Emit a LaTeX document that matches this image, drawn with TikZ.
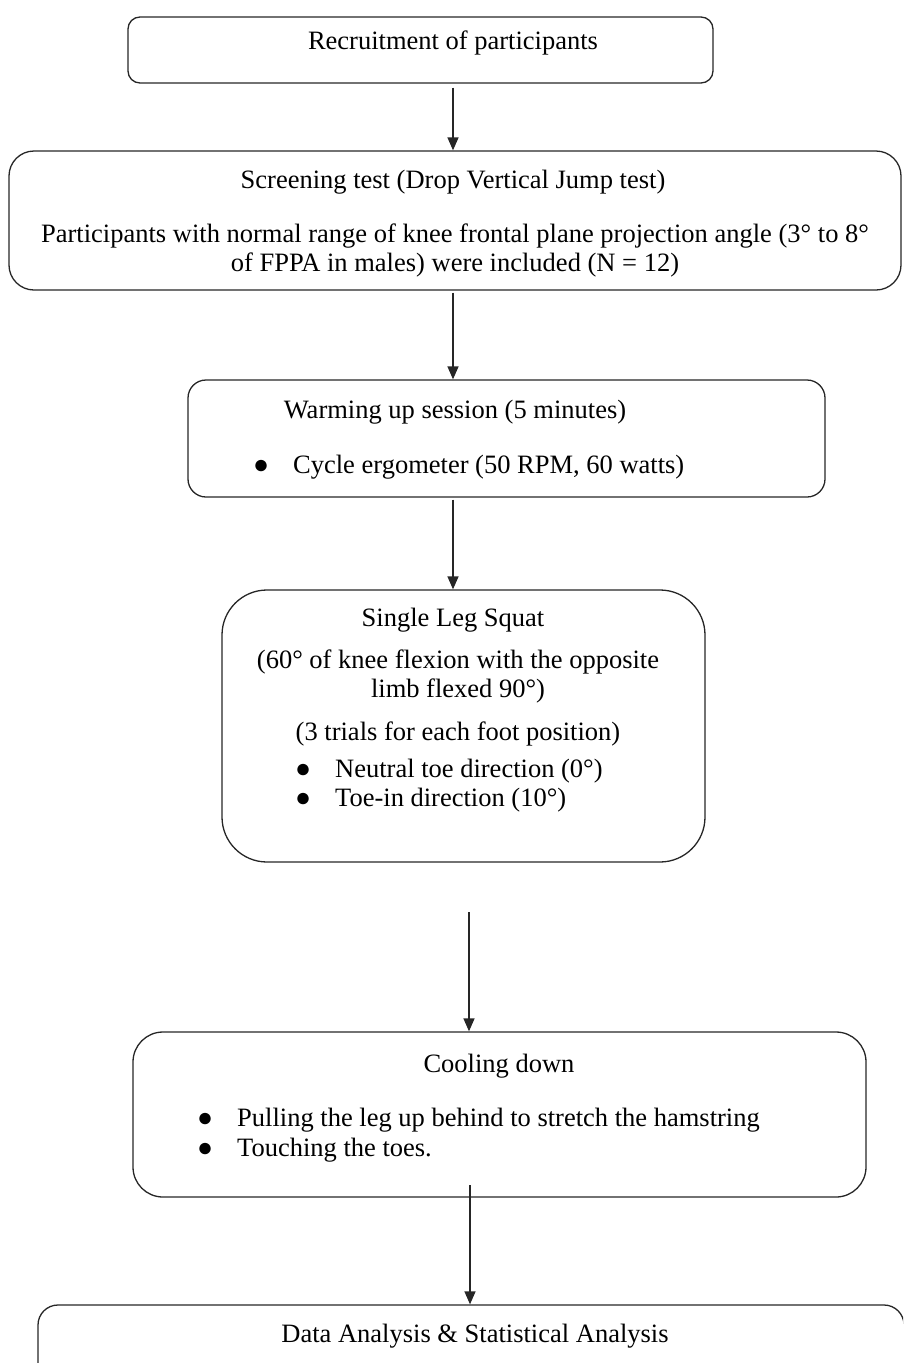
\documentclass[tikz,border=0pt]{standalone}
\usepackage{fontspec}
\setmainfont{Liberation Serif}
\usetikzlibrary{arrows.meta}

\newcommand{\flowbullet}{\makebox[40pt][l]{●}}

\begin{document}
\begin{tikzpicture}[x=1pt, y=-1pt,
    flowbox/.style={draw=black!85, line width=1.3pt, inner sep=0pt},
    flowtext/.style={font=\fontsize{26.5}{29}\selectfont, inner sep=0pt, align=center},
    flowlist/.style={flowtext, align=left, anchor=west},
    flowarrow/.style={draw=black!85, line width=1.4pt, -{Triangle[length=13pt,width=11pt]}}]
\useasboundingbox (0,0) rectangle (903,1363);
\clip (0,0) rectangle (903,1363);

% boxes
\node[flowbox, rounded corners=12pt, minimum width=585pt, minimum height=66pt] (recruit) at (420.5,50) {};
\node[flowbox, rounded corners=25pt, minimum width=892pt, minimum height=139pt] (screen) at (455,220.5) {};
\node[flowbox, rounded corners=18pt, minimum width=637pt, minimum height=117pt] (warm) at (506.5,438.5) {};
\node[flowbox, rounded corners=45pt, minimum width=483pt, minimum height=272pt] (squat) at (463.5,726) {};
\node[flowbox, rounded corners=30pt, minimum width=733pt, minimum height=165pt] (cool) at (499.5,1114.5) {};
\node[flowbox, rounded corners=20pt, minimum width=866pt, minimum height=95pt] (data) at (471,1352.5) {};

% texts
\node[flowtext] (recruittxt) at (453,43) {Recruitment of participants};
\node[flowtext] (screentitle) at (453,182) {Screening test (Drop Vertical Jump test)};
\node[flowtext] (screenbody) at (455,250) {Participants with normal range of knee frontal plane projection angle (3° to 8°\\
  of FPPA in males) were included (N = 12)};
\node[flowtext] (warmtitle) at (455,412) {Warming up session (5 minutes)};
\node[flowlist] (warmlist) at (253,467) {\flowbullet Cycle ergometer (50 RPM, 60 watts)};
\node[flowtext] (squattitle) at (453,620) {Single Leg Squat};
\node[flowtext] (squatbody) at (458,676) {(60° of knee flexion with the opposite\\ limb flexed 90°)};
\node[flowtext] (squattrials) at (458,734) {(3 trials for each foot position)};
\node[flowlist] (squatlist) at (295,786) {\flowbullet Neutral toe direction (0°)\\ \flowbullet Toe-in direction (10°)};
\node[flowtext] (cooltitle) at (499,1066) {Cooling down};
\node[flowlist, font=\fontsize{26.5}{30}\selectfont] (coollist) at (197,1135) {\flowbullet Pulling the leg up behind to stretch the hamstring\\ \flowbullet Touching the toes.};
\node[flowtext] (datatxt) at (475,1336) {Data Analysis \& Statistical Analysis};

% arrows
\coordinate (squatout) at (469,912);
\coordinate (coolout) at (470,1185);
\draw[flowarrow] ([yshift=-4pt]recruit.south -| recruittxt) -- (screen.north -| recruittxt);
\draw[flowarrow] ([yshift=-2pt]screen.south -| recruittxt) -- (warm.north -| recruittxt);
\draw[flowarrow] ([yshift=-2pt]warm.south -| screentitle) -- (squat.north -| screentitle);
\draw[flowarrow] (squatout) -- (cool.north -| squatout);
\draw[flowarrow] (coolout) -- (data.north -| coolout);
\end{tikzpicture}
\end{document}
